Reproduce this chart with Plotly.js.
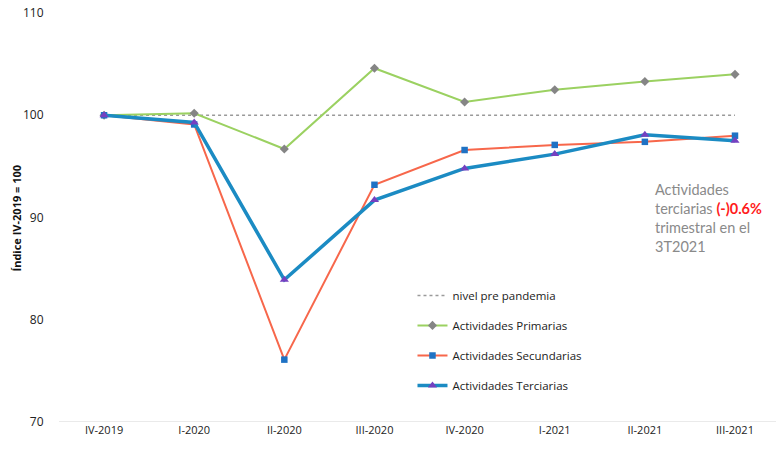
<!DOCTYPE html>
<html>
<head>
<meta charset="utf-8">
<script src="https://cdn.plot.ly/plotly-3.0.1.min.js"></script>
<style>html,body{margin:0;padding:0;background:#fff;}#chart{width:776px;height:451px;}</style>
</head>
<body>
<div id="chart"></div>
<script>
const categories = ["IV-2019","I-2020","II-2020","III-2020","IV-2020","I-2021","II-2021","III-2021"];
const preNivel = [100,100,100,100,100,100,100,100];
const primarias = [100,100.2,96.7,104.6,101.3,102.5,103.3,104.0];
const secundarias = [100,99.1,76.1,93.2,96.6,97.1,97.4,98.0];
const terciarias = [100,99.3,83.9,91.7,94.8,96.2,98.1,97.5];
const yTicks = [70,80,90,100,110];

const font = "Open Sans, Lato, sans-serif";
const traces = [
  {x: categories, y: preNivel, name: "nivel pre pandemia", mode: "lines", legendgroup: "a",
   line: {color: "#9a9a9a", width: 1.5, dash: "dot"}},
  {x: categories, y: primarias, name: "Actividades Primarias", mode: "lines+markers", legendgroup: "b",
   line: {color: "#9bd161", width: 2}, marker: {symbol: "diamond", size: 7, color: "#858585"}},
  {x: categories, y: secundarias, name: "Actividades Secundarias", mode: "lines+markers", legendgroup: "c",
   line: {color: "#f7674b", width: 2}, marker: {symbol: "square", size: 6.5, color: "#1f72c4"}},
  {x: categories, y: terciarias, name: "Actividades Terciarias", mode: "lines+markers", legendgroup: "d",
   line: {color: "#1b8bc3", width: 3.5}, marker: {symbol: "triangle-up", size: 8, color: "#7540c0"}}
];

const layout = {
  width: 776, height: 451,
  margin: {l: 59, r: 0, t: 13, b: 29},
  paper_bgcolor: "#fff", plot_bgcolor: "#fff",
  font: {family: font, size: 11, color: "#333"},
  showlegend: true,
  legend: {x: 0.493, xanchor: "left", y: 0.345, yanchor: "top", tracegroupgap: 11,
           font: {family: font, size: 11.5, color: "#222"}, bgcolor: "rgba(0,0,0,0)", itemwidth: 30},
  xaxis: {type: "category", range: [-0.5, 7.455], showgrid: false, zeroline: false, showline: false,
          ticks: "", tickfont: {family: font, size: 11, color: "#222"}, fixedrange: true},
  yaxis: {range: [70, 110], tickvals: yTicks, showgrid: true, gridcolor: "rgba(0,0,0,0)",
          zeroline: false, showline: false, ticks: "outside", ticklen: 12, tickcolor: "rgba(0,0,0,0)",
          tickfont: {family: font, size: 12, color: "#222"}},
  shapes: [
    {type: "line", xref: "paper", yref: "y", x0: 0, x1: 1, y0: 70, y1: 70, line: {color: "#e3e3e3", width: 1.5}}
  ],
  annotations: [
    {xref: "paper", yref: "paper", x: -0.0586, y: 0.5, xanchor: "center", yanchor: "middle", textangle: -90,
     showarrow: false, font: {family: font, size: 11, color: "#111"}, text: "<b>Índice IV-2019 = 100</b>"},
    {xref: "paper", yref: "paper", x: 0.829, y: 0.595, xanchor: "left", yanchor: "top", align: "left",
     showarrow: false, font: {family: "Lato, sans-serif", size: 14.5, color: "#8a8a8a"},
     text: "Actividades<br>terciarias <b><span style='color:#ff1a1a'>(-)0.6%</span></b><br>trimestral en el<br>3T2021"}
  ]
};

Plotly.newPlot("chart", traces, layout, {displayModeBar: false, staticPlot: true});
</script>
</body>
</html>
